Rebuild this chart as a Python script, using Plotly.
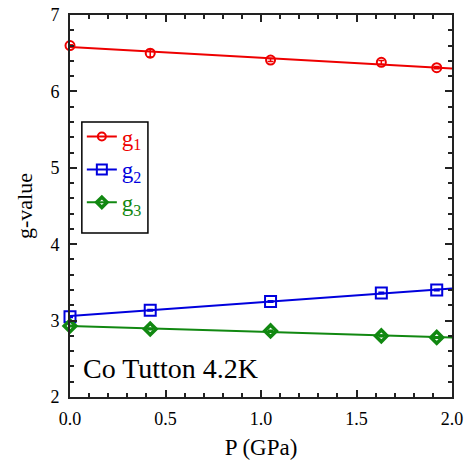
import plotly.graph_objects as go

pressure = [0.0, 0.42, 1.05, 1.63, 1.92]
g1 = [6.60, 6.50, 6.41, 6.38, 6.31]
g1_err = [0.01, 0.05, 0.02, 0.025, 0.015]
g2 = [3.05, 3.135, 3.25, 3.36, 3.40]
g2_err = [0.01, 0.01, 0.01, 0.01, 0.01]
g3 = [2.93, 2.89, 2.865, 2.80, 2.78]
g3_err = [0.01, 0.01, 0.01, 0.01, 0.01]

fit_x = [0.0, 2.0]
g1_fit = [6.58, 6.30]
g2_fit = [3.06, 3.42]
g3_fit = [2.93, 2.78]

colors = ["#ee0000", "#0000dd", "#118811"]
names = ["g<sub>1</sub>", "g<sub>2</sub>", "g<sub>3</sub>"]
symbols = ["circle-open", "square-open", "diamond-open"]
sizes = [9, 11, 9]
widths = [2, 2, 3.5]

font_family = "Liberation Serif"

fig = go.Figure()
for ys, err, fit, c, s, sz, w in zip([g1, g2, g3], [g1_err, g2_err, g3_err],
                                     [g1_fit, g2_fit, g3_fit], colors, symbols, sizes, widths):
    fig.add_trace(go.Scatter(x=fit_x, y=fit, mode="lines", line=dict(color=c, width=2),
                             showlegend=False, hoverinfo="skip", cliponaxis=False))
    fig.add_trace(go.Scatter(x=pressure, y=ys, mode="markers", showlegend=False,
                             marker=dict(symbol=s, size=sz, color=c, line=dict(color=c, width=w)),
                             error_y=dict(type="data", array=err, color=c, thickness=1.5, width=3),
                             cliponaxis=False))

for n, c, s, sz, w in zip(names, colors, symbols, sizes, widths):
    fig.add_trace(go.Scatter(x=[None], y=[None], mode="markers+lines",
                             name=f"<span style='color:{c}'>{n}</span>",
                             line=dict(color=c, width=2),
                             marker=dict(symbol=s, size=sz - 1, color=c, line=dict(color=c, width=w))))

fig.add_annotation(x=0.06, y=2.37, xref="x", yref="y", text="Co Tutton 4.2K",
                   showarrow=False, xanchor="left", yanchor="middle",
                   font=dict(size=28, color="black", family=font_family))

# legend frame
fig.add_shape(type="rect", xref="paper", yref="paper", x0=0.031, x1=0.204, y0=0.429, y1=0.72,
              line=dict(color="black", width=1.5), fillcolor="white", layer="below")

axis_common = dict(showline=True, linecolor="#222222", linewidth=2, mirror="allticks",
                   ticks="inside", ticklen=7, tickwidth=2, tickcolor="#222222",
                   showgrid=False, zeroline=False, automargin=False,
                   tickfont=dict(size=18, color="black", family=font_family))

fig.update_layout(
    width=471, height=460,
    margin=dict(l=70, r=19, t=15, b=63),
    plot_bgcolor="white", paper_bgcolor="white",
    font=dict(family=font_family, color="black"),
    xaxis=dict(range=[0, 2], dtick=0.5, tick0=0, tickformat=".1f", ticklabelstandoff=4,
               minor=dict(dtick=0.1, ticks="inside", ticklen=4, tickwidth=1.5, tickcolor="#222222"),
               title=dict(text="P (GPa)", font=dict(size=23, family=font_family), standoff=19),
               **axis_common),
    yaxis=dict(range=[2, 7], dtick=1, tick0=2, ticklabelstandoff=5,
               minor=dict(dtick=0.2, ticks="inside", ticklen=4, tickwidth=1.5, tickcolor="#222222"),
               title=dict(text="g-value", font=dict(size=22, family=font_family), standoff=12),
               **axis_common),
    legend=dict(x=0.031, y=0.738, xanchor="left", yanchor="top",
                borderwidth=0, bgcolor="rgba(0,0,0,0)",
                font=dict(size=23, family=font_family),
                itemwidth=30),
)

fig.write_html("out.html")
